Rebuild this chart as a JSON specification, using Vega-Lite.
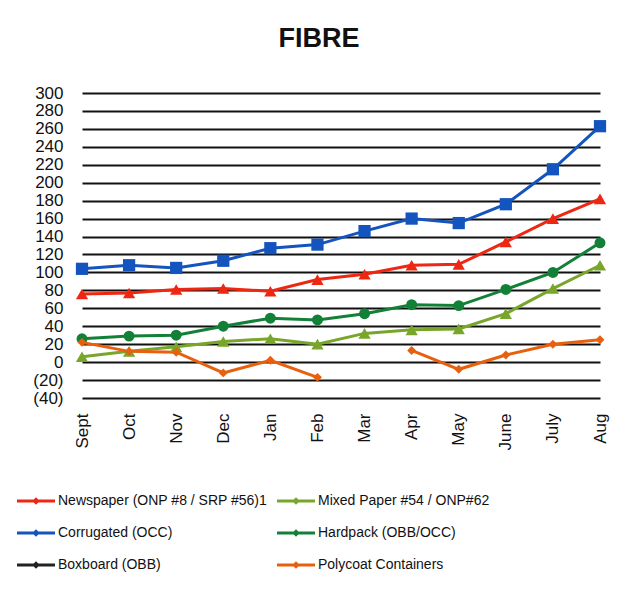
{
  "$schema": "https://vega.github.io/schema/vega-lite/v6.json",
  "width": 518,
  "height": 305,
  "autosize": {"type": "none"},
  "padding": {"left": 82, "top": 93, "right": 20, "bottom": 200},
  "background": "white",
  "config": {"view": {"stroke": null}, "font": "Liberation Sans"},
  "title": {"text": "FIBRE", "fontSize": 27, "font": "Liberation Sans", "fontWeight": "bold", "color": "#111111", "anchor": "middle", "dx": -22, "offset": 10, "baseline": "alphabetic"},
  "data": {"values": [
    {"month": "Sept", "series": "Newspaper (ONP #8 / SRP #56)1", "value": 76},
    {"month": "Oct", "series": "Newspaper (ONP #8 / SRP #56)1", "value": 77},
    {"month": "Nov", "series": "Newspaper (ONP #8 / SRP #56)1", "value": 81},
    {"month": "Dec", "series": "Newspaper (ONP #8 / SRP #56)1", "value": 82},
    {"month": "Jan", "series": "Newspaper (ONP #8 / SRP #56)1", "value": 79},
    {"month": "Feb", "series": "Newspaper (ONP #8 / SRP #56)1", "value": 92},
    {"month": "Mar", "series": "Newspaper (ONP #8 / SRP #56)1", "value": 98},
    {"month": "Apr", "series": "Newspaper (ONP #8 / SRP #56)1", "value": 108},
    {"month": "May", "series": "Newspaper (ONP #8 / SRP #56)1", "value": 109},
    {"month": "June", "series": "Newspaper (ONP #8 / SRP #56)1", "value": 134},
    {"month": "July", "series": "Newspaper (ONP #8 / SRP #56)1", "value": 160},
    {"month": "Aug", "series": "Newspaper (ONP #8 / SRP #56)1", "value": 182},
    {"month": "Sept", "series": "Mixed Paper #54 / ONP#62", "value": 6},
    {"month": "Oct", "series": "Mixed Paper #54 / ONP#62", "value": 12},
    {"month": "Nov", "series": "Mixed Paper #54 / ONP#62", "value": 17},
    {"month": "Dec", "series": "Mixed Paper #54 / ONP#62", "value": 23},
    {"month": "Jan", "series": "Mixed Paper #54 / ONP#62", "value": 26},
    {"month": "Feb", "series": "Mixed Paper #54 / ONP#62", "value": 20},
    {"month": "Mar", "series": "Mixed Paper #54 / ONP#62", "value": 32},
    {"month": "Apr", "series": "Mixed Paper #54 / ONP#62", "value": 36},
    {"month": "May", "series": "Mixed Paper #54 / ONP#62", "value": 37},
    {"month": "June", "series": "Mixed Paper #54 / ONP#62", "value": 54},
    {"month": "July", "series": "Mixed Paper #54 / ONP#62", "value": 82},
    {"month": "Aug", "series": "Mixed Paper #54 / ONP#62", "value": 108},
    {"month": "Sept", "series": "Corrugated (OCC)", "value": 104},
    {"month": "Oct", "series": "Corrugated (OCC)", "value": 108},
    {"month": "Nov", "series": "Corrugated (OCC)", "value": 105},
    {"month": "Dec", "series": "Corrugated (OCC)", "value": 113},
    {"month": "Jan", "series": "Corrugated (OCC)", "value": 127},
    {"month": "Feb", "series": "Corrugated (OCC)", "value": 131},
    {"month": "Mar", "series": "Corrugated (OCC)", "value": 146},
    {"month": "Apr", "series": "Corrugated (OCC)", "value": 160},
    {"month": "May", "series": "Corrugated (OCC)", "value": 155},
    {"month": "June", "series": "Corrugated (OCC)", "value": 176},
    {"month": "July", "series": "Corrugated (OCC)", "value": 215},
    {"month": "Aug", "series": "Corrugated (OCC)", "value": 263},
    {"month": "Sept", "series": "Hardpack (OBB/OCC)", "value": 26},
    {"month": "Oct", "series": "Hardpack (OBB/OCC)", "value": 29},
    {"month": "Nov", "series": "Hardpack (OBB/OCC)", "value": 30},
    {"month": "Dec", "series": "Hardpack (OBB/OCC)", "value": 40},
    {"month": "Jan", "series": "Hardpack (OBB/OCC)", "value": 49},
    {"month": "Feb", "series": "Hardpack (OBB/OCC)", "value": 47},
    {"month": "Mar", "series": "Hardpack (OBB/OCC)", "value": 54},
    {"month": "Apr", "series": "Hardpack (OBB/OCC)", "value": 64},
    {"month": "May", "series": "Hardpack (OBB/OCC)", "value": 63},
    {"month": "June", "series": "Hardpack (OBB/OCC)", "value": 81},
    {"month": "July", "series": "Hardpack (OBB/OCC)", "value": 100},
    {"month": "Aug", "series": "Hardpack (OBB/OCC)", "value": 133},
    {"month": "Sept", "series": "Polycoat Containers", "value": 22},
    {"month": "Oct", "series": "Polycoat Containers", "value": 12},
    {"month": "Nov", "series": "Polycoat Containers", "value": 11},
    {"month": "Dec", "series": "Polycoat Containers", "value": -12},
    {"month": "Jan", "series": "Polycoat Containers", "value": 2},
    {"month": "Feb", "series": "Polycoat Containers", "value": -17},
    {"month": "Mar", "series": "Polycoat Containers", "value": null},
    {"month": "Apr", "series": "Polycoat Containers", "value": 13},
    {"month": "May", "series": "Polycoat Containers", "value": -8},
    {"month": "June", "series": "Polycoat Containers", "value": 8},
    {"month": "July", "series": "Polycoat Containers", "value": 20},
    {"month": "Aug", "series": "Polycoat Containers", "value": 25}
  ]},
  "encoding": {
    "x": {"field": "month", "type": "ordinal",
      "scale": {"type": "point", "padding": 0, "domain": ["Sept","Oct","Nov","Dec","Jan","Feb","Mar","Apr","May","June","July","Aug"]},
      "axis": {"title": null, "labelAngle": -90, "labelPadding": 15, "ticks": false, "domain": false, "grid": false, "labelFontSize": 17, "labelColor": "#111111", "labelFont": "Liberation Sans"}},
    "y": {"field": "value", "type": "quantitative",
      "scale": {"domain": [-40, 300], "nice": false, "zero": false},
      "axis": {"title": null, "values": [-40,-20,0,20,40,60,80,100,120,140,160,180,200,220,240,260,280,300],
        "labelExpr": "datum.value < 0 ? '(' + (-datum.value) + ')' : '' + datum.value",
        "grid": true, "gridColor": "#111111", "gridWidth": 2, "gridOpacity": 1, "domain": false, "ticks": false,
        "labelPadding": 19, "labelFontSize": 17, "labelColor": "#111111", "labelFont": "Liberation Sans", "labelOverlap": false}},
    "color": {"field": "series", "type": "nominal",
      "scale": {"domain": ["Newspaper (ONP #8 / SRP #56)1","Corrugated (OCC)","Boxboard (OBB)","Mixed Paper #54 / ONP#62","Hardpack (OBB/OCC)","Polycoat Containers"],
        "range": ["#EE2712","#1454BE","#222222","#78A62A","#138038","#E8600E"]},
      "legend": {"orient": "none", "legendX": -65, "legendY": 389, "columns": 2, "title": null,
        "symbolType": "M-1,-0.08H1V0.08H-1Z M0,-0.2L0.2,0L0,0.2L-0.2,0Z",
        "symbolSize": 1444, "symbolStrokeWidth": 0, "labelFontSize": 14, "labelFont": "Liberation Sans", "labelColor": "#111111",
        "labelOffset": 3, "rowPadding": 6, "columnPadding": 9, "labelLimit": 400,
        "encode": {"symbols": {"update": {"fill": {"scale": "color", "field": "value"}, "opacity": {"value": 1}, "strokeWidth": {"value": 0}}}}}}
  },
  "layer": [
    {"mark": {"type": "line", "strokeWidth": 3, "invalid": "break-paths-filter-domains"}},
    {"transform": [{"filter": "datum.series === 'Newspaper (ONP #8 / SRP #56)1' || datum.series === 'Mixed Paper #54 / ONP#62'"}],
     "mark": {"type": "point", "filled": true, "opacity": 1, "shape": "triangle-up", "size": 150}},
    {"transform": [{"filter": "datum.series === 'Corrugated (OCC)'"}],
     "mark": {"type": "point", "filled": true, "opacity": 1, "shape": "square", "size": 150}},
    {"transform": [{"filter": "datum.series === 'Hardpack (OBB/OCC)'"}],
     "mark": {"type": "point", "filled": true, "opacity": 1, "shape": "circle", "size": 120}},
    {"transform": [{"filter": "datum.series === 'Polycoat Containers'"}],
     "mark": {"type": "point", "filled": true, "opacity": 1, "shape": "diamond", "size": 80}}
  ]
}
